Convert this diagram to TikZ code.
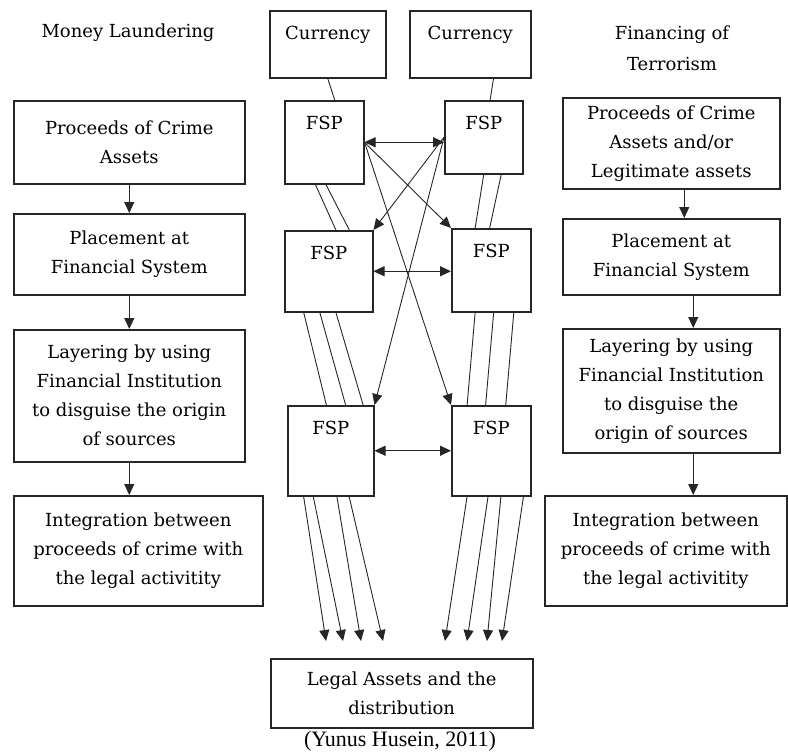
\documentclass[tikz,border=0pt]{standalone}
\usepackage{fontspec}
\setmainfont{DejaVu Serif}
\newfontfamily\capfont{Liberation Serif}
\usetikzlibrary{arrows.meta,calc}

\begin{document}
\begin{tikzpicture}[x=1pt, y=-1pt,
	stage/.style={draw=black!85, line width=1.5pt, fill=white, align=center, anchor=north west, inner sep=1pt, font=\fontsize{18}{29}\selectfont},
	heading/.style={align=center, font=\fontsize{18}{31}\selectfont},
	holder/.style={draw=black!85, line width=1.5pt, anchor=north west, label={[anchor=north, inner sep=0pt, label distance=-16pt, font=\fontsize{18}{22}\selectfont]north:#1}},
	link/.style={line width=0.9pt, draw=black!85},
	flow/.style={link, -{Triangle[length=11pt, width=10pt]}},
	swap/.style={link, {Triangle[length=11pt, width=10pt]}-{Triangle[length=11pt, width=10pt]}}]
	\useasboundingbox (0,0) rectangle (788,755);

	% money laundering column
	\node[heading] (mlHead) at (128,33) {Money Laundering};
	\node[stage, minimum width=231pt, minimum height=83pt] (mlA) at (13,100) {Proceeds of Crime\\Assets};
	\node[stage, minimum width=231pt, minimum height=81pt] (mlB) at (13,213) {Placement at\\Financial System};
	\node[stage, minimum width=231pt, minimum height=132pt] (mlC) at (13,329) {Layering by using\\Financial Institution\\to disguise the origin\\of sources};
	\node[stage, minimum width=249pt, minimum height=110pt] (mlD) at (13,495) {Integration between\\proceeds of crime with\\the legal activitity};

	% financing of terrorism column
	\node[heading] (ftHead) at (672,48) {Financing of\\Terrorism};
	\node[stage, minimum width=217pt, minimum height=91pt] (ftA) at (562,97) {Proceeds of Crime\\Assets and/or\\Legitimate assets};
	\node[stage, minimum width=217pt, minimum height=76pt] (ftB) at (562,218) {Placement at\\Financial System};
	\node[stage, minimum width=217pt, minimum height=124pt] (ftC) at (562,328) {Layering by using\\Financial Institution\\to disguise the\\origin of sources};
	\node[stage, minimum width=242pt, minimum height=110pt] (ftD) at (544,495) {Integration between\\proceeds of crime with\\the legal activitity};

	% middle: currency and FSP
	\node[holder=Currency, minimum width=116pt, minimum height=67pt] (curL) at (269,10) {};
	\node[holder=Currency, minimum width=121pt, minimum height=67pt] (curR) at (409,10) {};
	\node[holder=FSP, minimum width=79pt, minimum height=83pt] (fspA) at (284,100) {};
	\node[holder=FSP, minimum width=78pt, minimum height=73pt] (fspB) at (444,100) {};
	\node[holder=FSP, minimum width=88pt, minimum height=81pt] (fspC) at (284,230) {};
	\node[holder=FSP, minimum width=79pt, minimum height=83pt] (fspD) at (451,228) {};
	\node[holder=FSP, minimum width=86pt, minimum height=90pt] (fspE) at (287,405) {};
	\node[holder=FSP, minimum width=79pt, minimum height=90pt] (fspF) at (451,405) {};
	\node[stage, minimum width=262pt, minimum height=69pt] (legal) at (270,658) {Legal Assets and the\\distribution};
	\node[font=\capfont\fontsize{22}{24}\selectfont] (source) at (400,741) {(Yunus Husein, 2011)};

	\coordinate (dropA) at (326,641);
	\coordinate (dropB) at (343,641);
	\coordinate (dropC) at (361,641);
	\coordinate (dropD) at (383,641);
	\coordinate (dropE) at (445,641);
	\coordinate (dropF) at (467,641);
	\coordinate (dropG) at (487,641);
	\coordinate (dropH) at (502,641);

	% side columns
	\draw[flow] (mlA.south) -- (mlB.north);
	\draw[flow] (mlB.south) -- (mlC.north);
	\draw[flow] (mlC.south) -- (mlC.south |- mlD.north);
	\draw[flow] ([xshift=13pt]ftA.south) -- ([xshift=13pt]ftA.south |- ftB.north);
	\draw[flow] ([xshift=22pt]ftB.south) -- ([xshift=22pt]ftB.south |- ftC.north);
	\draw[flow] ([xshift=22pt]ftC.south) -- ([xshift=22pt]ftC.south |- ftD.north);

	% currency to FSP
	\draw[link] ($(curL.south west)!0.50!(curL.south east)$) -- ($(fspA.north west)!0.63!(fspA.north east)$);
	\draw[link] ($(curR.south west)!0.69!(curR.south east)$) -- ($(fspB.north west)!0.58!(fspB.north east)$);

	% exchanges between FSP
	\draw[swap] (fspA.east) -- (fspA.east -| fspB.west);
	\draw[swap] (fspC.east) -- (fspC.east -| fspD.west);
	\draw[swap] (fspE.east) -- (fspE.east -| fspF.west);
	\draw[flow] (fspA.east) -- (fspD.north west);
	\draw[flow] (fspA.east) -- (fspF.north west);
	\draw[flow] (fspB.west) -- (fspC.north east);
	\draw[flow] (fspB.west) -- (fspE.north east);

	% first to second level
	\draw[link] ($(fspA.south west)!0.39!(fspA.south east)$) -- ($(fspC.north west)!0.58!(fspC.north east)$);
	\draw[link] ($(fspA.south west)!0.52!(fspA.south east)$) -- ($(fspC.north west)!0.73!(fspC.north east)$);
	\draw[link] ($(fspB.south west)!0.50!(fspB.south east)$) -- ($(fspD.north west)!0.30!(fspD.north east)$);
	\draw[link] ($(fspB.south west)!0.72!(fspB.south east)$) -- ($(fspD.north west)!0.48!(fspD.north east)$);

	% second to third level
	\draw[link] ($(fspC.south west)!0.22!(fspC.south east)$) -- ($(fspE.north west)!0.45!(fspE.north east)$);
	\draw[link] ($(fspC.south west)!0.40!(fspC.south east)$) -- ($(fspE.north west)!0.67!(fspE.north east)$);
	\draw[link] ($(fspC.south west)!0.58!(fspC.south east)$) -- ($(fspE.north west)!0.87!(fspE.north east)$);
	\draw[link] ($(fspD.south west)!0.30!(fspD.south east)$) -- ($(fspF.north west)!0.20!(fspF.north east)$);
	\draw[link] ($(fspD.south west)!0.53!(fspD.south east)$) -- ($(fspF.north west)!0.43!(fspF.north east)$);
	\draw[link] ($(fspD.south west)!0.78!(fspD.south east)$) -- ($(fspF.north west)!0.68!(fspF.north east)$);

	% third level to legal assets
	\draw[flow] ($(fspE.south west)!0.19!(fspE.south east)$) -- (dropA);
	\draw[flow] ($(fspE.south west)!0.30!(fspE.south east)$) -- (dropB);
	\draw[flow] ($(fspE.south west)!0.57!(fspE.south east)$) -- (dropC);
	\draw[flow] ($(fspE.south west)!0.71!(fspE.south east)$) -- (dropD);
	\draw[flow] ($(fspF.south west)!0.20!(fspF.south east)$) -- (dropE);
	\draw[flow] ($(fspF.south west)!0.46!(fspF.south east)$) -- (dropF);
	\draw[flow] ($(fspF.south west)!0.62!(fspF.south east)$) -- (dropG);
	\draw[flow] ($(fspF.south west)!0.90!(fspF.south east)$) -- (dropH);
\end{tikzpicture}
\end{document}
